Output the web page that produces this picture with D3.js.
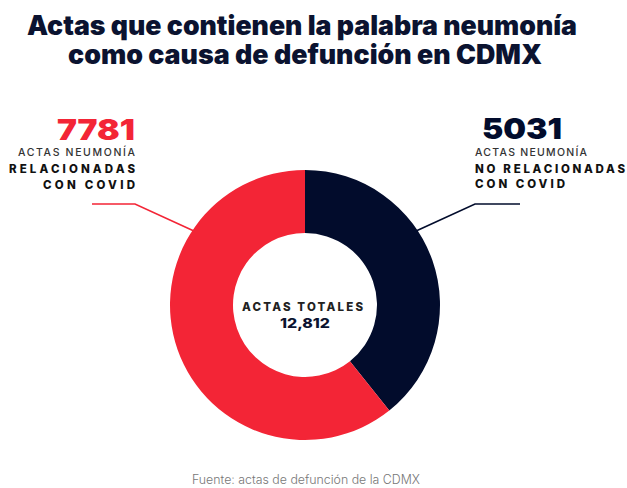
<!DOCTYPE html>
<html>
<head>
<meta charset="utf-8">
<script src="https://cdn.jsdelivr.net/npm/d3@7"></script>
<style>
  body { margin: 0; background: #fff; }
  svg { display: block; font-family: Inter, 'Noto Sans', sans-serif; }
</style>
</head>
<body>
<div id="chart"></div>
<script>
const categories = ['No relacionadas con COVID', 'Relacionadas con COVID']
const values = [5031, 7781]
const colors = ['#020c2c', '#f32536']
const titleLines = ['Actas que contienen la palabra neumonía', 'como causa de defunción en CDMX']
const totalLabel = 'ACTAS TOTALES'
const sourceText = 'Fuente: actas de defunción de la CDMX'

const width = 627
const height = 488
const cx = 305
const cy = 305
const outerR = 135
const innerR = 72
const navy = '#0b1330'

const svg = d3.select('#chart').append('svg')
    .attr('width', width)
    .attr('height', height)

// title
const titleLayout = [
  { y: 35, x0: 27, w: 550 },
  { y: 64, x0: 68, w: 474 }
]
svg.selectAll('text.title')
    .data(titleLines).enter()
  .append('text')
    .attr('class', 'title')
    .attr('x', (d, i) => titleLayout[i].x0)
    .attr('y', (d, i) => titleLayout[i].y)
    .attr('textLength', (d, i) => titleLayout[i].w)
    .attr('lengthAdjust', 'spacingAndGlyphs')
    .attr('font-size', 26.5)
    .attr('font-weight', 900)
    .attr('fill', navy)
    .text(d => d)

// donut
const pie = d3.pie().sort(null).value(d => d)
const arc = d3.arc().innerRadius(innerR).outerRadius(outerR)

const g = svg.append('g')
    .attr('transform', `translate(${cx}, ${cy})`)

g.selectAll('path')
    .data(pie(values)).enter()
  .append('path')
    .attr('d', arc)
    .attr('fill', (d, i) => colors[i])

// leader lines
const leaderAngle = 56.4 * Math.PI / 180
const rightEnd = d3.pointRadial(leaderAngle, outerR - 1)
const leftEnd = d3.pointRadial(-leaderAngle, outerR - 1)

svg.append('polyline')
    .attr('points', [[520, 204], [475, 204], [cx + rightEnd[0], cy + rightEnd[1]]].join(' '))
    .attr('fill', 'none')
    .attr('stroke', colors[0])
    .attr('stroke-width', 1.6)

svg.append('polyline')
    .attr('points', [[92, 204], [135, 204], [cx + leftEnd[0], cy + leftEnd[1]]].join(' '))
    .attr('fill', 'none')
    .attr('stroke', colors[1])
    .attr('stroke-width', 1.6)

// labels: [text, x start, width, baseline, size, weight, fill, adjust]
const fmt = d3.format('d')
const labels = [
  [fmt(values[1]), 57, 78, 140, 29, 900, colors[1], 'spacingAndGlyphs'],
  ['ACTAS NEUMONÍA', 18, 117, 156, 10.5, 500, '#333', 'spacing'],
  ['RELACIONADAS', 9, 126, 173, 11.5, 800, '#111', 'spacing'],
  ['CON COVID', 43, 92, 189, 11.5, 800, '#111', 'spacing'],
  [fmt(values[0]), 482, 80, 139, 29, 900, colors[0], 'spacingAndGlyphs'],
  ['ACTAS NEUMONÍA', 475, 112, 156, 10.5, 500, '#333', 'spacing'],
  ['NO RELACIONADAS', 475, 150, 173, 11.5, 800, '#111', 'spacing'],
  ['CON COVID', 475, 90, 188, 11.5, 800, '#111', 'spacing'],
  [totalLabel, 242, 121, 311, 11.5, 800, '#222', 'spacing'],
  [d3.format(',')(d3.sum(values)), 280, 50, 328, 13.5, 800, navy, 'spacingAndGlyphs']
]

svg.selectAll('text.label')
    .data(labels).enter()
  .append('text')
    .attr('class', 'label')
    .attr('x', d => d[1])
    .attr('y', d => d[3])
    .attr('textLength', d => d[2])
    .attr('lengthAdjust', d => d[7])
    .attr('font-size', d => d[4])
    .attr('font-weight', d => d[5])
    .attr('fill', d => d[6])
    .text(d => d[0])

// source
svg.append('text')
    .attr('x', 192)
    .attr('y', 484)
    .attr('textLength', 228)
    .attr('lengthAdjust', 'spacingAndGlyphs')
    .attr('font-size', 12.5)
    .attr('font-weight', 300)
    .attr('fill', '#777')
    .text(sourceText)
</script>
</body>
</html>
